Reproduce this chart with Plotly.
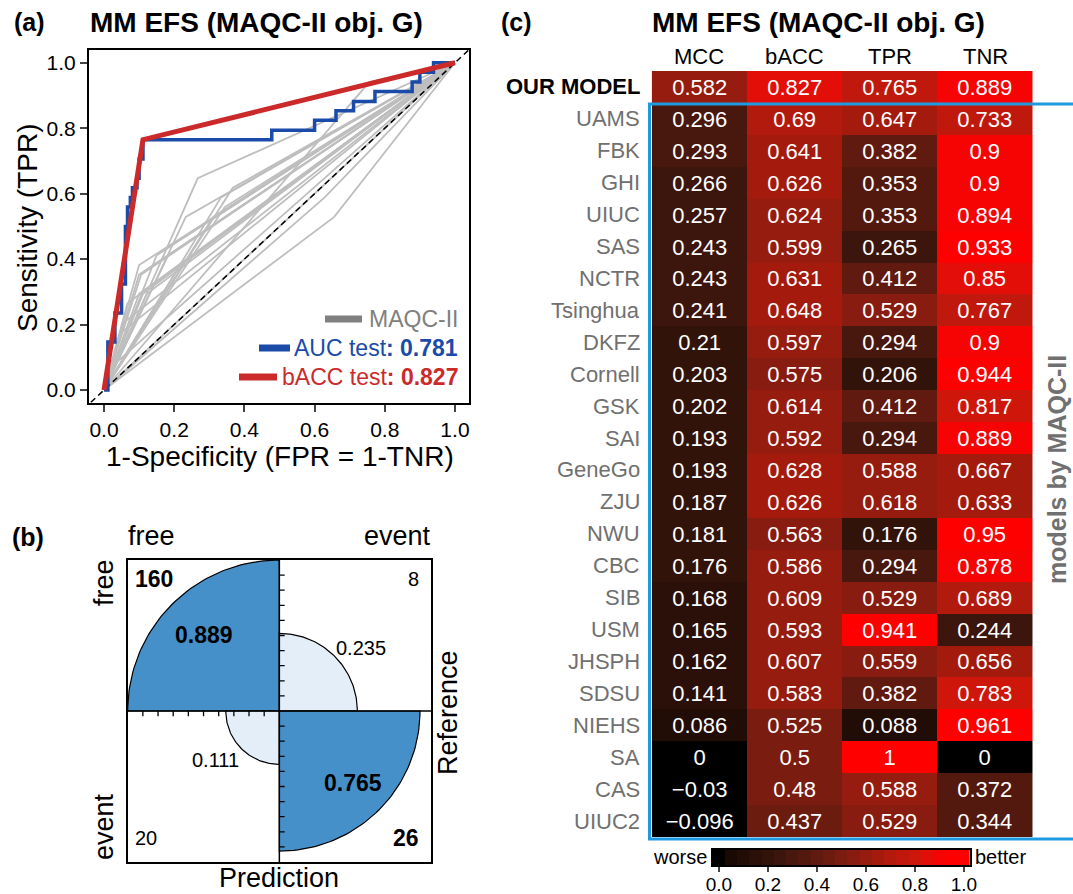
import math
import plotly.graph_objects as go

W, H = 1073, 894
def px(x): return x / W
def py(y): return 1 - y / H

FONT = "Liberation Sans, Arial, sans-serif"

# ---------------- data ----------------
models = ["OUR MODEL", "UAMS", "FBK", "GHI", "UIUC", "SAS", "NCTR", "Tsinghua", "DKFZ",
          "Cornell", "GSK", "SAI", "GeneGo", "ZJU", "NWU", "CBC", "SIB", "USM", "JHSPH",
          "SDSU", "NIEHS", "SA", "CAS", "UIUC2"]
metrics = ["MCC", "bACC", "TPR", "TNR"]
mcc = [0.582, 0.296, 0.293, 0.266, 0.257, 0.243, 0.243, 0.241, 0.21, 0.203, 0.202, 0.193,
       0.193, 0.187, 0.181, 0.176, 0.168, 0.165, 0.162, 0.141, 0.086, 0, -0.03, -0.096]
bacc = [0.827, 0.69, 0.641, 0.626, 0.624, 0.599, 0.631, 0.648, 0.597, 0.575, 0.614, 0.592,
        0.628, 0.626, 0.563, 0.586, 0.609, 0.593, 0.607, 0.583, 0.525, 0.5, 0.48, 0.437]
tpr = [0.765, 0.647, 0.382, 0.353, 0.353, 0.265, 0.412, 0.529, 0.294, 0.206, 0.412, 0.294,
       0.588, 0.618, 0.176, 0.294, 0.529, 0.941, 0.559, 0.382, 0.088, 1, 0.588, 0.529]
tnr = [0.889, 0.733, 0.9, 0.9, 0.894, 0.933, 0.85, 0.767, 0.9, 0.944, 0.817, 0.889,
       0.667, 0.633, 0.95, 0.878, 0.689, 0.244, 0.656, 0.783, 0.961, 0, 0.372, 0.344]

# ROC curve of our model (corner points, drawn as a staircase)
roc_fpr = [0, 0.011, 0.031, 0.05, 0.061, 0.067, 0.075, 0.081, 0.094, 0.1, 0.111,
           0.478, 0.6, 0.661, 0.711, 0.772, 0.878, 0.9, 0.939, 1.0]
roc_tpr = [0, 0.147, 0.235, 0.324, 0.5, 0.559, 0.588, 0.618, 0.647, 0.706, 0.765,
           0.794, 0.824, 0.853, 0.882, 0.912, 0.941, 0.971, 1.0, 1.0]
auc_test = 0.781
bacc_test = 0.827

# confusion matrix (TL, TR, BL, BR) and proportions
cm_counts = [160, 8, 20, 26]
cm_props = [0.889, 0.235, 0.111, 0.765]
cm_bold = [True, False, False, True]

# colour key: levels 0, 0.05, ..., 1 and their colours
cb_levels = [0, 0.05, 0.1, 0.15, 0.2, 0.25, 0.3, 0.35, 0.4, 0.45, 0.5, 0.55, 0.6, 0.65,
             0.7, 0.75, 0.8, 0.85, 0.9, 0.95, 1.0]
cb_colors = ["#000000", "#190804", "#210c06", "#2a1008", "#32130a", "#3c150c", "#48170d",
             "#54190e", "#601a0f", "#6c1b0f", "#7a1c10", "#881c10", "#961c0f", "#a41b0e",
             "#b21a0d", "#c0180c", "#ce160a", "#e20e07", "#f50403", "#ff0000", "#ff0000"]
cb_ticks = [0, 0.2, 0.4, 0.6, 0.8, 1.0]
cb_ticktext = ["0.0", "0.2", "0.4", "0.6", "0.8", "1.0"]

fig = go.Figure()

# ---------------- panel (a) ROC ----------------
for i in range(1, len(models)):
    fig.add_trace(go.Scatter(x=[0, 1 - tnr[i], 1], y=[0, tpr[i], 1], mode="lines",
                             line=dict(color="#BEBEBE", width=1.8),
                             xaxis="x", yaxis="y", hoverinfo="skip", showlegend=False))
fig.add_trace(go.Scatter(x=[-0.1, 1.1], y=[-0.1, 1.1], mode="lines",
                         line=dict(color="black", width=1.5, dash="6px,4px"),
                         xaxis="x", yaxis="y", hoverinfo="skip", showlegend=False))
fig.add_trace(go.Scatter(x=roc_fpr, y=roc_tpr, mode="lines", line_shape="hv",
                         line=dict(color="#1A4BA8", width=3.5),
                         xaxis="x", yaxis="y", hoverinfo="skip", showlegend=False))
fig.add_trace(go.Scatter(x=[0, 1 - tnr[0], 1], y=[0, tpr[0], 1], mode="lines",
                         line=dict(color="#CC2A2A", width=5),
                         xaxis="x", yaxis="y", hoverinfo="skip", showlegend=False))

# ---------------- panel (b) fourfold ----------------
quad_sign = [(-1, 1), (1, 1), (-1, -1), (1, -1)]
pmax = max(cm_props)
for (sx, sy), p, diag in zip(quad_sign, cm_props, cm_bold):
    r = math.sqrt(p / pmax)
    n = 60
    xs = [0] + [sx * r * math.cos(k * math.pi / 2 / n) for k in range(n + 1)] + [0]
    ys = [0] + [sy * r * math.sin(k * math.pi / 2 / n) for k in range(n + 1)] + [0]
    fig.add_trace(go.Scatter(x=xs, y=ys, mode="lines", fill="toself",
                             fillcolor="#4690CA" if diag else "#E4EEF8",
                             line=dict(color="black", width=1.2),
                             xaxis="x2", yaxis="y2", hoverinfo="skip", showlegend=False))
fig.add_trace(go.Scatter(x=[-1, 1, None, 0, 0], y=[0, 0, None, -1, 1], mode="lines",
                         line=dict(color="black", width=1.5),
                         xaxis="x2", yaxis="y2", hoverinfo="skip", showlegend=False))
tx, ty = [], []
tl = 0.035
for k in range(1, 10):
    t = k / 10
    tx += [-t, -t, None]; ty += [0, -tl, None]
    tx += [0, tl, None]; ty += [t, t, None]
    tx += [0, tl, None]; ty += [-t, -t, None]
fig.add_trace(go.Scatter(x=tx, y=ty, mode="lines", line=dict(color="black", width=1.3),
                         xaxis="x2", yaxis="y2", hoverinfo="skip", showlegend=False))

# ---------------- panel (c) heatmap ----------------
zmat = [[mcc[i], bacc[i], tpr[i], tnr[i]] for i in range(len(models))]
def fmt(v):
    return f"{v:g}".replace("-", "\u2212")
tmat = [[fmt(v) for v in row] for row in zmat]

nlev = len(cb_colors)
half = (cb_levels[1] - cb_levels[0]) / 2
zmin, zmax = cb_levels[0] - half, cb_levels[-1] + half
cs = []
for k, col in enumerate(cb_colors):
    cs.append([round(k / nlev, 6), col])
    cs.append([round((k + 1) / nlev, 6), col])

fig.add_trace(go.Heatmap(
    z=zmat, x=metrics, y=models, text=tmat, texttemplate="%{text}",
    textfont=dict(color="white", size=22, family=FONT),
    zmin=zmin, zmax=zmax, colorscale=cs, showscale=False,
    xaxis="x3", yaxis="y3", hoverinfo="skip"))

# colour key drawn as its own small heatmap
fig.add_trace(go.Heatmap(
    z=[cb_levels], x=cb_levels, y=[0], zmin=zmin, zmax=zmax, colorscale=cs,
    showscale=False, xaxis="x4", yaxis="y4", hoverinfo="skip"))

# ---------------- layout ----------------
ann = []
def A(text, x, y, size, color="black", xanchor="center", yanchor="middle", angle=0, **kw):
    d = dict(text=text, x=x, y=y, xref=kw.pop("xref", "paper"), yref=kw.pop("yref", "paper"),
             showarrow=False, xanchor=xanchor, yanchor=yanchor, textangle=angle,
             font=dict(size=size, color=color, family=FONT))
    d.update(kw)
    ann.append(d)

# panel a texts
A("<b>(a)</b>", px(12), py(22), 25, xanchor="left")
A("<b>MM EFS (MAQC-II obj. G)</b>", px(256.5), py(22), 28)
A("Sensitivity (TPR)", px(27), py(228), 28, angle=-90)
A("1-Specificity (FPR = 1-TNR)", px(280), py(457), 28)
A("MAQC-II", px(460), py(319), 23, color="#808080", xanchor="right")
A(f"AUC test<b>: {auc_test}</b>", px(460), py(348), 23, color="#1A4BA8", xanchor="right")
A(f"bACC test<b>: {bacc_test}</b>", px(460), py(377), 23, color="#CC2A2A", xanchor="right")

# panel b texts
A("<b>(b)</b>", px(28), py(537), 25)
A("free", px(151), py(536), 27)
A("event", px(397), py(536), 27)
A("free", px(104), py(583), 27, angle=-90)
A("event", px(104), py(827), 27, angle=-90)
A("Prediction", px(279), py(878), 27)
A("Reference", px(448), py(713), 27, angle=-90)
cnt_pos = [(-0.963, 0.874, "left"), (0.932, 0.874, "right"),
           (-0.963, -0.843, "left"), (0.932, -0.843, "right")]
for (x, y, xa), c, b in zip(cnt_pos, cm_counts, cm_bold):
    A(f"<b>{c}</b>" if b else str(c), x, y, 23 if b else 20, xanchor=xa, xref="x2", yref="y2")
prop_pos = [(-0.497, 0.503), (0.538, 0.417), (-0.424, -0.325), (0.485, -0.477)]
for (x, y), p, b in zip(prop_pos, cm_props, cm_bold):
    A(f"<b>{p}</b>" if b else str(p), x, y, 23 if b else 20, xref="x2", yref="y2")

# panel c texts
A("<b>(c)</b>", px(499), py(22), 25, xanchor="left")
A("<b>MM EFS (MAQC-II obj. G)</b>", px(818), py(22), 28)
for m in metrics:
    A(m, m, py(57), 22, xref="x3")
for i, m in enumerate(models):
    if i == 0:
        A(f"<b>{m}</b>", px(642), m, 22, xanchor="right", yref="y3")
    else:
        A(m, px(642), m, 22, color="#707070", xanchor="right", yref="y3")
A("<b>models by MAQC-II</b>", px(1057), py(470), 25, color="#707070", angle=-90)
A("worse", px(709), py(857), 20, xanchor="right")
A("better", px(973), py(857), 20, xanchor="left")

shapes = [
    dict(type="line", xref="paper", yref="paper", x0=px(325), x1=px(362), y0=py(319), y1=py(319),
         line=dict(color="#808080", width=7)),
    dict(type="line", xref="paper", yref="paper", x0=px(259), x1=px(290), y0=py(348), y1=py(348),
         line=dict(color="#1A4BA8", width=7)),
    dict(type="line", xref="paper", yref="paper", x0=px(239), x1=px(277), y0=py(377), y1=py(377),
         line=dict(color="#CC2A2A", width=7)),
    dict(type="path", xref="paper", yref="paper",
         path=f"M {px(1073)} {py(104)} L {px(649.5)} {py(104)} L {px(649.5)} {py(839)} L {px(1073)} {py(839)}",
         line=dict(color="#1E9BE0", width=3)),
]

ax_common = dict(showgrid=False, zeroline=False)
fig.update_layout(
    width=W, height=H, margin=dict(l=0, r=0, t=0, b=0, autoexpand=False),
    paper_bgcolor="white", plot_bgcolor="white", showlegend=False,
    font=dict(family=FONT, color="black"),
    xaxis=dict(domain=[px(89), px(469)], range=[-0.0428, 1.040], showline=True, mirror=True,
               linecolor="black", linewidth=2, ticks="outside", ticklen=7, tickwidth=1.5,
               tickvals=[0, 0.2, 0.4, 0.6, 0.8, 1.0],
               ticktext=["0.0", "0.2", "0.4", "0.6", "0.8", "1.0"],
               tickfont=dict(size=21), anchor="y", **ax_common),
    yaxis=dict(domain=[py(403), py(50)], range=[-0.0397, 1.039], showline=True, mirror=True,
               linecolor="black", linewidth=2, ticks="outside", ticklen=7, tickwidth=1.5,
               tickvals=[0, 0.2, 0.4, 0.6, 0.8, 1.0],
               ticktext=["0.0", "0.2", "0.4", "0.6", "0.8", "1.0"],
               tickfont=dict(size=21), anchor="x", **ax_common),
    xaxis2=dict(domain=[px(127.7), px(431)], range=[-1, 1], showline=True, mirror=True,
                linecolor="black", linewidth=1.5, showticklabels=False, ticks="",
                anchor="y2", **ax_common),
    yaxis2=dict(domain=[py(862), py(560)], range=[-1, 1], showline=True, mirror=True,
                linecolor="black", linewidth=1.5, showticklabels=False, ticks="",
                anchor="x2", **ax_common),
    xaxis3=dict(domain=[px(651.7), px(1032.7)], showticklabels=False, ticks="",
                showline=False, anchor="y3", **ax_common),
    yaxis3=dict(domain=[py(837), py(71)], autorange="reversed", showticklabels=False,
                ticks="", showline=False, anchor="x3", **ax_common),
    xaxis4=dict(domain=[px(712.7), px(970)], range=[zmin, zmax], showline=True, mirror=True,
                linecolor="black", linewidth=1.5, ticks="outside", ticklen=5, tickwidth=1.5,
                tickvals=cb_ticks, ticktext=cb_ticktext, tickfont=dict(size=19),
                ticklabelstandoff=-4, anchor="y4", **ax_common),
    yaxis4=dict(domain=[py(865), py(850)], range=[-0.5, 0.5], showline=True, mirror=True,
                linecolor="black", linewidth=1.5, showticklabels=False, ticks="",
                anchor="x4", **ax_common),
    annotations=ann, shapes=shapes,
)

fig.write_html("out.html", config=dict(displayModeBar=False))
